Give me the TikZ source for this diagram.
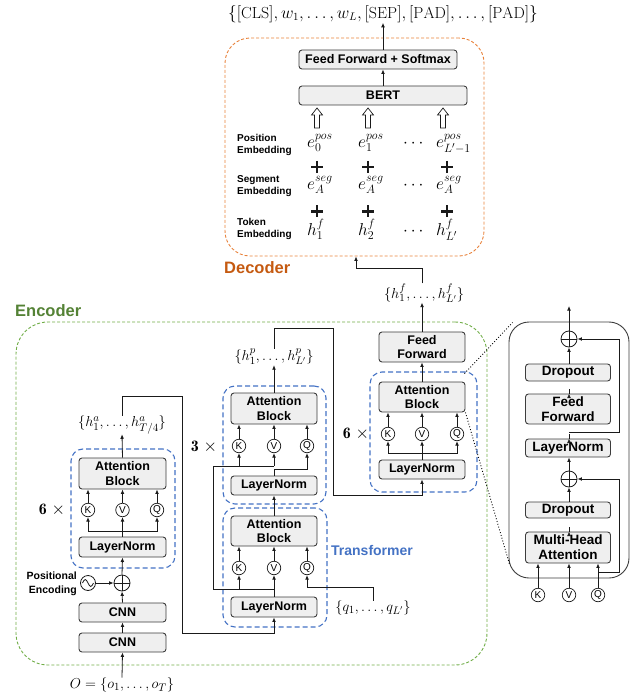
\documentclass[tikz,border=0pt]{standalone}
\usepackage{fontspec}
\setsansfont{Liberation Sans}
\usetikzlibrary{arrows.meta,calc}
\definecolor{fillc}{HTML}{EFEFEF}
\definecolor{bordc}{HTML}{3C3C3C}
\definecolor{linec}{HTML}{1A1A1A}
\definecolor{bluec}{HTML}{4472C4}
\definecolor{greenc}{HTML}{70AD47}
\definecolor{greent}{HTML}{548235}
\definecolor{orangec}{HTML}{E8813A}
\definecolor{oranget}{HTML}{C55A11}
\begin{document}
\begin{tikzpicture}[x=1pt,y=-1pt,
  box/.style={draw=bordc, fill=fillc, rounded corners=3pt, line width=0.9pt, inner sep=0pt, align=center, font=\sffamily\bfseries\fontsize{12.5}{14.5}\selectfont},
  xbox/.style={box, font=\sffamily\bfseries\fontsize{13.5}{15}\selectfont},
  kvq/.style={circle, draw=linec, line width=0.7pt, inner sep=0pt, minimum size=13.5pt, font=\sffamily\fontsize{10}{10}\selectfont},
  opl/.style={circle, draw=linec, line width=0.8pt, inner sep=0pt, minimum size=16pt},
  arr/.style={draw=linec, line width=0.8pt, -{Latex[length=4.5pt,width=3.8pt]}},
  wire/.style={draw=linec, line width=0.8pt},
  ml/.style={inner sep=0pt, font=\fontsize{15}{18}\selectfont},
  em/.style={inner sep=0pt, anchor=base west, font=\fontsize{17.5}{20}\selectfont},
  emblab/.style={inner sep=0pt, anchor=west, align=left, font=\sffamily\bfseries\fontsize{10}{12.5}\selectfont},
  bluebox/.style={draw=bluec, line width=1.1pt, dash pattern=on 5pt off 3pt, rounded corners=12pt, inner sep=0pt},
  encbox/.style={draw=greenc, line width=0.9pt, dash pattern=on 3pt off 2pt, rounded corners=32pt, inner sep=0pt},
  decbox/.style={draw=orangec, line width=0.9pt, dash pattern=on 3pt off 2pt, rounded corners=25pt, inner sep=0pt},
  plussign/.style={minimum size=12pt, inner sep=0pt, path picture={\draw[line width=2.3pt, linec] (path picture bounding box.west) -- (path picture bounding box.east) (path picture bounding box.north) -- (path picture bounding box.south);}},
  hollow/.pic={\draw[line width=0.7pt, linec, fill=white] (-2.5,10) -- (-2.5,-3) -- (-5.5,-3) -- (0,-10) -- (5.5,-3) -- (2.5,-3) -- (2.5,10) -- cycle;},
  mult/.style={inner sep=0pt, font=\fontsize{16}{18}\selectfont}
]
\useasboundingbox (0,0) rectangle (634,700);

% ---------------- Decoder ----------------
\node[decbox, minimum width=259pt, minimum height=218pt] (dec) at (354.5,147) {};
\node[inner sep=0pt, anchor=west, text=oranget, font=\sffamily\bfseries\fontsize{16.5}{18}\selectfont] (declab) at (224,268) {Decoder};
\node[inner sep=0pt, font=\fontsize{16}{18}\selectfont] (topout) at (383,14) {$\{[\mathrm{CLS}], w_1, \ldots, w_L, [\mathrm{SEP}], [\mathrm{PAD}], \ldots, [\mathrm{PAD}]\}$};
\node[box, minimum width=158pt, minimum height=19pt] (ffs) at (378,59.5) {Feed Forward + Softmax};
\node[box, minimum width=168pt, minimum height=19pt] (bert) at (383,95.5) {BERT};
\draw[arr] (bert.north) -- (bert.north |- ffs.south);
\draw[arr] (bert.north |- ffs.north) -- (topout.south);
\pic at (317,118) {hollow};
\pic at (368,118) {hollow};
\pic at (443,118) {hollow};

\node[emblab] (lpos) at (237,145) {Position\\Embedding};
\node[emblab] (lseg) at (237,186) {Segment\\Embedding};
\node[emblab] (ltok) at (237,229) {Token\\Embedding};

\node[em] (p0) at (307,148) {$e_0^{pos}$};
\node[em] (p1) at (358,148) {$e_1^{pos}$};
\node[em] (pd) at (403,148) {$\cdots$};
\node[em] (pl) at (436,148) {$e_{L'-1}^{pos}$};
\node[em] (s0) at (307,190) {$e_A^{seg}$};
\node[em] (s1) at (358,190) {$e_A^{seg}$};
\node[em] (sd) at (403,190) {$\cdots$};
\node[em] (sl) at (436,190) {$e_A^{seg}$};
\node[em] (t0) at (307,236) {$h_1^f$};
\node[em] (t1) at (358,236) {$h_2^f$};
\node[em] (td) at (403,236) {$\cdots$};
\node[em] (tl) at (436,236) {$h_{L'}^f$};

\node[plussign] (pa1) at (317,167) {};
\node[plussign] (pa2) at (368,167) {};
\node[plussign] (pa3) at (447,167) {};
\node[plussign] (pb1) at (317,211.5) {};
\node[plussign] (pb2) at (368,211.5) {};
\node[plussign] (pb3) at (447,211.5) {};

% ---------------- Encoder ----------------
\node[encbox, minimum width=471pt, minimum height=343pt] (enc) at (251.5,493.5) {};
\node[inner sep=0pt, anchor=west, text=greent, font=\sffamily\bfseries\fontsize{16.5}{18}\selectfont] (enclab) at (15,311) {Encoder};

% left column
\node[ml] (olab) at (122,685) {$O=\{o_1, \ldots, o_T\}$};
\node[box, minimum width=87pt, minimum height=19pt] (cnn1) at (122.5,642.5) {CNN};
\node[box, minimum width=87pt, minimum height=19pt] (cnn2) at (122.5,612.5) {CNN};
\node[opl] (op1) at (122,583) {};
\draw[linec, line width=0.8pt] (op1.north) -- (op1.south) (op1.west) -- (op1.east);
\node[circle, draw=linec, line width=0.8pt, inner sep=0pt, minimum size=15pt] (sine) at (88,583) {};
\draw[linec, line width=0.8pt] ($(sine.center)+(-5.5,0)$) sin ++(2.75,-3.5) cos ++(2.75,3.5) sin ++(2.75,3.5) cos ++(2.75,-3.5);
\node[inner sep=0pt, anchor=east, align=right, font=\sffamily\bfseries\fontsize{10.5}{13.5}\selectfont] (posenc) at (77,584) {Positional\\Encoding};
\node[bluebox, minimum width=104pt, minimum height=119pt] (bb1) at (123,508.5) {};
\node[box, minimum width=87pt, minimum height=20pt] (ln1) at (122.5,547) {LayerNorm};
\node[kvq] (k1) at (88,510) {K};
\node[kvq] (v1) at (122.5,510) {V};
\node[kvq] (q1) at (157,510) {Q};
\node[box, minimum width=87pt, minimum height=31pt] (ab1) at (122.5,473.5) {Attention\\Block};
\node[mult] (m1) at (52,510) {$\mathbf{6}\;{\times}$};
\node[ml] (ha) at (122,425) {$\{h_1^a, \ldots, h_{T/4}^a\}$};

\draw[arr] (olab.north) -- (cnn1.south);
\draw[arr] (cnn1.north) -- (cnn2.south);
\draw[arr] (cnn2.north) -- (op1.south);
\draw[arr] (sine.east) -- (op1.west);
\draw[arr] (op1.north) -- (ln1.south);
\draw[arr] (ln1.north) -- (v1.south);
\coordinate (b1) at (122.5,531);
\draw[arr] (b1) -| (k1.south);
\draw[arr] (b1) -| (q1.south);
\draw[arr] (k1.north) -- (k1.north |- ab1.south);
\draw[arr] (v1.north) -- (v1.north |- ab1.south);
\draw[arr] (q1.north) -- (q1.north |- ab1.south);
\draw[arr] (ab1.north) -- (ha.south);

% middle column
\node[bluebox, minimum width=104pt, minimum height=119pt] (bb3) at (275,567.5) {};
\node[bluebox, minimum width=103pt, minimum height=118pt] (bb2) at (274.5,445) {};
\node[box, minimum width=86pt, minimum height=20pt] (ln3) at (274,607) {LayerNorm};
\node[kvq] (k3) at (239,568) {K};
\node[kvq] (v3) at (274,568) {V};
\node[kvq] (q3) at (307,568) {Q};
\node[box, minimum width=86pt, minimum height=30pt] (ab3) at (274,531) {Attention\\Block};
\node[box, minimum width=86pt, minimum height=19pt] (ln2) at (274,485.5) {LayerNorm};
\node[kvq] (k2) at (239,446) {K};
\node[kvq] (v2) at (274,446) {V};
\node[kvq] (q2) at (307,446) {Q};
\node[box, minimum width=86pt, minimum height=31pt] (ab2) at (274,408.5) {Attention\\Block};
\node[mult] (m2) at (204,447) {$\mathbf{3}\;{\times}$};
\node[inner sep=0pt, text=bluec, font=\sffamily\bfseries\fontsize{14}{16}\selectfont] (trlab) at (372,550) {Transformer};
\node[ml] (qlab) at (373,608) {$\{q_1, \ldots, q_{L'}\}$};
\node[ml] (hp) at (274,357) {$\{h_1^p, \ldots, h_{L'}^p\}$};

\coordinate (c1) at (182,396);
\coordinate (c2) at (182,633);
\draw[arr] (ha.north) |- (c1) -- (c2) -| (ln3.south);
\draw[arr] (ln3.north) -- (v3.south);
\coordinate (kv3) at (274,589);
\coordinate (l3) at (213,589);
\coordinate (l2) at (213,466);
\coordinate (kv2) at (274,466);
\draw[wire] (kv3) -- (l3) -- (l2) -- (kv2);
\draw[arr] (k3.south |- kv3) -- (k3.south);
\draw[arr] (kv2) -- (v2.south);
\draw[arr] (k2.south |- kv2) -- (k2.south);
\coordinate (qj3) at (307,587);
\draw[arr] (qlab.north) |- (qj3) -- (q3.south);
\coordinate (qj2) at (274,469.5);
\draw[arr] (ln2.north) -- (qj2) -| (q2.south);
\draw[arr] (k3.north) -- (k3.north |- ab3.south);
\draw[arr] (v3.north) -- (v3.north |- ab3.south);
\draw[arr] (q3.north) -- (q3.north |- ab3.south);
\draw[arr] (k2.north) -- (k2.north |- ab2.south);
\draw[arr] (v2.north) -- (v2.north |- ab2.south);
\draw[arr] (q2.north) -- (q2.north |- ab2.south);
\draw[arr] (ab3.north) -- (ln2.south);
\draw[arr] (ab2.north) -- (hp.south);

% right column
\node[bluebox, minimum width=107pt, minimum height=120pt] (bb4) at (423.5,432) {};
\node[box, minimum width=86pt, minimum height=19pt] (ln4) at (422,469.5) {LayerNorm};
\node[kvq] (k4) at (388,434) {K};
\node[kvq] (v4) at (422,434) {V};
\node[kvq] (q4) at (457,434) {Q};
\node[box, minimum width=86pt, minimum height=30pt] (ab4) at (422,397) {Attention\\Block};
\node[box, minimum width=86pt, minimum height=30pt] (ff4) at (422,347) {Feed\\Forward};
\node[mult] (m4) at (356,434) {$\mathbf{6}\;{\times}$};
\node[ml] (hf) at (424,293) {$\{h_1^f, \ldots, h_{L'}^f\}$};

\coordinate (t1) at (333,328);
\coordinate (t2) at (333,495);
\draw[arr] (hp.north) |- (t1) -- (t2) -| (ln4.south);
\draw[arr] (ln4.north) -- (v4.south);
\coordinate (b4) at (422,453);
\draw[arr] (b4) -| (k4.south);
\draw[arr] (b4) -| (q4.south);
\draw[arr] (k4.north) -- (k4.north |- ab4.south);
\draw[arr] (v4.north) -- (v4.north |- ab4.south);
\draw[arr] (q4.north) -- (q4.north |- ab4.south);
\draw[arr] (ab4.north) -- (ff4.south);
\draw[arr] (ff4.north) -- (ff4.north |- hf.south);
\coordinate (dj) at (356,268);
\draw[arr] (ff4.north |- hf.north) |- (dj) -- (dj |- dec.south);

% ---------------- expanded attention block ----------------
\node[draw=bordc, line width=0.9pt, rounded corners=20pt, minimum width=120pt, minimum height=256pt, inner sep=0pt] (exbox) at (569,450) {};
\draw[dotted, line width=0.9pt] ($(ab4.north east)+(-1,-8)$) -- ($(exbox.north west)+(4,1)$);
\draw[dotted, line width=0.9pt] (ab4.south east) -- ($(exbox.south west)+(1,-14)$);
\node[opl] (opA) at (569,339) {};
\draw[linec, line width=0.8pt] (opA.north) -- (opA.south) (opA.west) -- (opA.east);
\node[xbox, minimum width=85pt, minimum height=17pt] (dropA) at (568,372.5) {Dropout};
\node[xbox, minimum width=85pt, minimum height=30pt] (ffA) at (568,409) {Feed\\Forward};
\node[xbox, minimum width=85pt, minimum height=18pt] (lnA) at (568,448) {LayerNorm};
\node[opl] (opB) at (569,479) {};
\draw[linec, line width=0.8pt] (opB.north) -- (opB.south) (opB.west) -- (opB.east);
\node[xbox, minimum width=85pt, minimum height=16pt] (dropB) at (568,510) {Dropout};
\node[xbox, minimum width=85pt, minimum height=31pt] (mha) at (568,547.5) {Multi-Head\\Attention};
\node[kvq] (kx) at (538,595) {K};
\node[kvq] (vx) at (569,595) {V};
\node[kvq] (qx) at (598,595) {Q};
\coordinate (outx) at (569,306);
\draw[arr] (opA.north) -- (outx);
\draw[arr] (dropA.north -| opA) -- (opA.south);
\draw[arr] (ffA.north -| opA) -- (ffA.north -| opA |- dropA.south);
\draw[arr] (lnA.north -| opA) -- (lnA.north -| opA |- ffA.south);
\draw[arr] (opB.north) -- (opB.north |- lnA.south);
\draw[arr] (dropB.north -| opB) -- (opB.south);
\draw[arr] (mha.north -| opB) -- (mha.north -| opB |- dropB.south);
\draw[arr] (kx.north) -- (kx.north |- mha.south);
\draw[arr] (vx.north) -- (vx.north |- mha.south);
\draw[arr] (qx.north) -- (qx.north |- mha.south);
\coordinate (rA1) at (569,432);
\coordinate (rA2) at (619,432);
\draw[arr] (rA1) -- (rA2) |- (opA.east);
\coordinate (rB1) at (598,572);
\coordinate (rB2) at (619,572);
\draw[arr] (rB1) -- (rB2) |- (opB.east);
\end{tikzpicture}
\end{document}
